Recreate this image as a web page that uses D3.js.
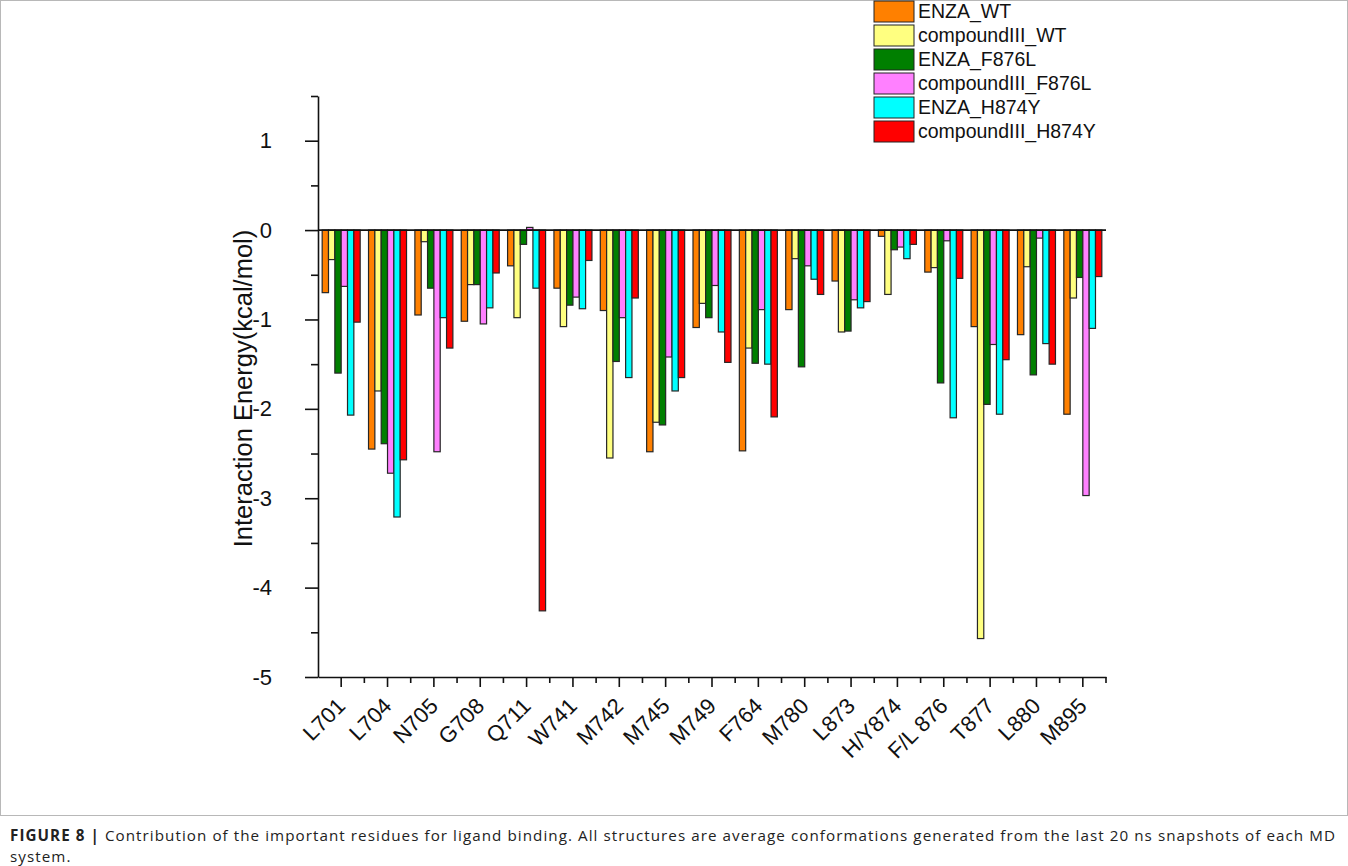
<!DOCTYPE html>
<html>
<head>
<meta charset="utf-8">
<script src="https://cdn.jsdelivr.net/npm/d3@7"></script>
<style>
	body { margin:0; background:#fff; }
	text { font-family: "Liberation Sans", Arial, sans-serif; }
	.bar { stroke:#262626; stroke-width:1.2; }
	.axis path, .axis line { stroke:#111; stroke-width:1.6; fill:none; }
	.caption { font-family: "Open Sans", "Liberation Sans", sans-serif; font-size:15.2px; fill:#222; }
</style>
</head>
<body>
<svg id="chart" width="1348" height="866"></svg>
<script>
var residues = ["L701","L704","N705","G708","Q711","W741","M742","M745","M749","F764","M780","L873","H/Y874","F/L 876","T877","L880","M895"];
var series = ["ENZA_WT","compoundIII_WT","ENZA_F876L","compoundIII_F876L","ENZA_H874Y","compoundIII_H874Y"];
var colors = ["#ff8000","#ffff80","#007f00","#ff80ff","#00ffff","#ff0000"];

// interaction energies (kcal/mol), one list per series, in residue order
var enza_wt        = [-0.70,-2.45,-0.95,-1.02,-0.40,-0.65,-0.90,-2.48,-1.09,-2.47,-0.89,-0.57,-0.07,-0.47,-1.08,-1.17,-2.06];
var compIII_wt     = [-0.33,-1.80,-0.13,-0.61,-0.98,-1.08,-2.55,-2.15,-0.82,-1.32,-0.32,-1.14,-0.72,-0.42,-4.57,-0.41,-0.76];
var enza_f876l     = [-1.60,-2.39,-0.65,-0.61,-0.16,-0.84,-1.47,-2.18,-0.98,-1.49,-1.53,-1.13,-0.22,-1.71,-1.95,-1.62,-0.53];
var compIII_f876l  = [-0.63,-2.72,-2.48,-1.05, 0.03,-0.75,-0.98,-1.42,-0.62,-0.89,-0.40,-0.78,-0.19,-0.12,-1.28,-0.09,-2.97];
var enza_h874y     = [-2.07,-3.21,-0.98,-0.87,-0.65,-0.88,-1.65,-1.80,-1.14,-1.50,-0.55,-0.87,-0.32,-2.10,-2.06,-1.27,-1.10];
var compIII_h874y  = [-1.03,-2.57,-1.32,-0.48,-4.26,-0.34,-0.76,-1.65,-1.48,-2.09,-0.72,-0.80,-0.16,-0.54,-1.45,-1.50,-0.52];
var values = [enza_wt, compIII_wt, enza_f876l, compIII_f876l, enza_h874y, compIII_h874y];

var yTicks = [-5,-4,-3,-2,-1,0,1];
var yLabel = "Interaction Energy(kcal/mol)";
var captionHead = "FIGURE 8 |";
var captionLines = [" Contribution of the important residues for ligand binding. All structures are average conformations generated from the last 20 ns snapshots of each MD",
	"system."];

var svg = d3.select("#chart");
var plot = {left:318, right:1106, top:96, bottom:677};

// figure frame
svg.append("rect")
	.attr("x",0.5).attr("y",0.5)
	.attr("width",1347).attr("height",815)
	.attr("fill","none").attr("stroke","#b8b8b8");

var x = d3.scaleBand().domain(residues).range([plot.left, plot.right]).padding(0);
var step = x.step();
var xs = d3.scaleBand().domain(series).range([step*0.09, step*0.91]);
var y = d3.scaleLinear().domain([-5,1.5]).range([plot.bottom, plot.top]);

// bars
var rows = [];
residues.forEach(function(r,i){
	series.forEach(function(s,j){
		rows.push({res:r, ser:s, idx:j, v:values[j][i]});
	});
});
svg.append("g").selectAll("rect")
	.data(rows)
	.enter().append("rect")
	.attr("class","bar")
	.attr("x",function(d){ return x(d.res)+xs(d.ser); })
	.attr("width",xs.bandwidth())
	.attr("y",function(d){ return Math.min(y(d.v),y(0)); })
	.attr("height",function(d){ return Math.abs(y(d.v)-y(0)); })
	.attr("fill",function(d){ return colors[d.idx]; });

// zero line
svg.append("line")
	.attr("x1",plot.left).attr("x2",plot.right)
	.attr("y1",y(0)).attr("y2",y(0))
	.attr("stroke","#111").attr("stroke-width",1.6);

// y axis, major + minor ticks
var yAxis = svg.append("g").attr("class","axis")
	.attr("transform","translate("+plot.left+",0)")
	.call(d3.axisLeft(y).tickValues(yTicks).tickSize(13).tickSizeOuter(0).tickPadding(33));
yAxis.selectAll("text").attr("font-size",22).attr("fill","#111")
	.text(function(d){ return d<0 ? "-"+Math.abs(d) : d; });
svg.append("g").attr("class","axis")
	.attr("transform","translate("+plot.left+",0)")
	.call(d3.axisLeft(y).tickValues(d3.range(-4.5,2,1)).tickSize(7).tickFormat(""))
	.select(".domain").remove();

// x axis
var xAxis = svg.append("g").attr("class","axis")
	.attr("transform","translate(0,"+plot.bottom+")")
	.call(d3.axisBottom(x).tickSize(10).tickSizeOuter(0));
xAxis.selectAll("text")
	.attr("font-size",22).attr("fill","#111")
	.attr("text-anchor","end")
	.attr("x",0).attr("y",0).attr("dy","0.35em")
	.attr("transform","translate(0,25) rotate(-45)");
var bounds = d3.range(1,residues.length+1).map(function(i){ return plot.left+i*step; });
svg.append("g").selectAll("line")
	.data(bounds)
	.enter().append("line")
	.attr("x1",function(d){ return d; }).attr("x2",function(d){ return d; })
	.attr("y1",plot.bottom).attr("y2",plot.bottom+6)
	.attr("stroke","#111").attr("stroke-width",1.6);

// y label
svg.append("text")
	.attr("transform","translate(252,"+((plot.top+plot.bottom)/2+2)+") rotate(-90)")
	.attr("text-anchor","middle")
	.attr("font-size",25.5).attr("fill","#111")
	.text(yLabel);

// legend
var legend = svg.append("g").attr("transform","translate(874,1)");
var items = legend.selectAll("g")
	.data(series)
	.enter().append("g")
	.attr("transform",function(d,i){ return "translate(0,"+(i*24)+")"; });
items.append("rect")
	.attr("width",40).attr("height",21)
	.attr("fill",function(d,i){ return colors[i]; })
	.attr("stroke","#222");
items.append("text")
	.attr("x",44).attr("y",17)
	.attr("font-size",19.5).attr("fill","#111")
	.text(function(d){ return d; });

// caption, letters spaced out a little so the first line runs the full width
var cap = svg.append("text").attr("class","caption").attr("x",10).attr("y",841);
cap.append("tspan").attr("font-weight","bold").text(captionHead);
cap.append("tspan").text(captionLines[0]);
var nChars = (captionHead+captionLines[0]).length;
var ls = Math.max(0,(1326-cap.node().getComputedTextLength())/nChars);
cap.attr("letter-spacing",ls);
svg.append("text").attr("class","caption").attr("x",10).attr("y",861.5)
	.attr("letter-spacing",ls).text(captionLines[1]);
</script>
</body>
</html>
